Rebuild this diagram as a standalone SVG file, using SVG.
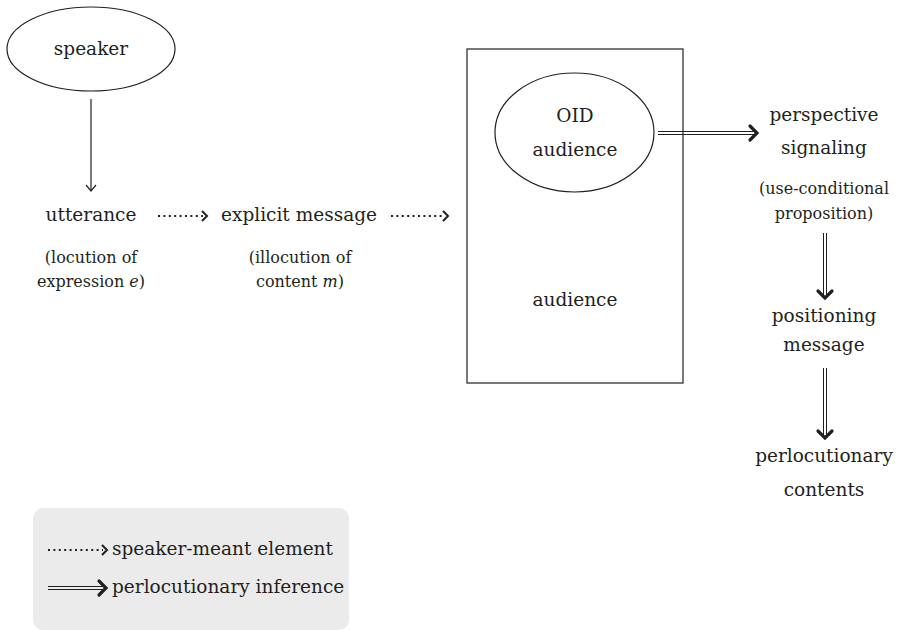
<svg xmlns="http://www.w3.org/2000/svg" width="898" height="630" viewBox="0 0 898 630">
<defs>
<style>
.t{font-family:"DejaVu Serif","Liberation Serif",serif;fill:#231f20;text-anchor:middle}
.m{font-size:18.5px}
.s{font-size:16px}
.l{text-anchor:start}
.shape{fill:none;stroke:#231f20;stroke-width:1.2}
.thin{fill:none;stroke:#231f20;stroke-width:1.2}
.dot{fill:none;stroke:#231f20;stroke-width:2;stroke-dasharray:2 3.4}
.dhead{fill:none;stroke:#231f20;stroke-width:2}
.dbl{fill:none;stroke:#231f20;stroke-width:1}
.bhead{fill:none;stroke:#231f20;stroke-width:3.2;stroke-linecap:round;stroke-linejoin:miter}
</style>
</defs>
<rect width="898" height="630" fill="#fff"/>
<g id="speaker">
<ellipse class="shape" cx="91" cy="49" rx="84" ry="42"/>
<text class="t m" x="91" y="55">speaker</text>
</g>
<g id="utterance">
<text class="t m" x="91" y="221">utterance</text>
<text class="t s" x="91" y="263">(locution of</text>
<text class="t s" x="91" y="287">expression <tspan font-style="italic">e</tspan>)</text>
</g>
<g id="explicit-message">
<text class="t m" x="299" y="221">explicit message</text>
<text class="t s" x="300" y="263">(illocution of</text>
<text class="t s" x="300" y="287">content <tspan font-style="italic">m</tspan>)</text>
</g>
<g id="audience">
<rect class="shape" x="467" y="49" width="216" height="334"/>
<text class="t m" x="575" y="306">audience</text>
</g>
<g id="oid-audience">
<ellipse class="shape" cx="574.5" cy="132.5" rx="79.5" ry="59.5"/>
<text class="t m" x="575" y="122">OID</text>
<text class="t m" x="575" y="156">audience</text>
</g>
<g id="perspective-signaling">
<text class="t m" x="824" y="121">perspective</text>
<text class="t m" x="824" y="154">signaling</text>
<text class="t s" x="824" y="194">(use-conditional</text>
<text class="t s" x="824" y="219">proposition)</text>
</g>
<g id="positioning-message">
<text class="t m" x="824" y="322">positioning</text>
<text class="t m" x="824" y="351">message</text>
</g>
<g id="perlocutionary-contents">
<text class="t m" x="824" y="462">perlocutionary</text>
<text class="t m" x="824" y="496">contents</text>
</g>
<g id="connectors">
<line class="thin" x1="91" y1="99" x2="91" y2="190"/>
<polyline class="thin" points="86,185 91,191 96,185"/>
<line class="dot" x1="158" y1="216" x2="203" y2="216"/>
<polyline class="dhead" points="202,211 207,216 202,221"/>
<line class="dot" x1="391" y1="216" x2="444" y2="216"/>
<polyline class="dhead" points="443,211 448,216 443,221"/>
<line class="dbl" x1="658" y1="131.5" x2="756" y2="131.5"/>
<line class="dbl" x1="658" y1="134.5" x2="756" y2="134.5"/>
<polyline class="bhead" points="750,126 757,133 750,140"/>
<line class="dbl" x1="823.5" y1="233" x2="823.5" y2="297"/>
<line class="dbl" x1="826.5" y1="233" x2="826.5" y2="297"/>
<polyline class="bhead" points="818,291 825,298 832,291"/>
<line class="dbl" x1="823.5" y1="368" x2="823.5" y2="437"/>
<line class="dbl" x1="826.5" y1="368" x2="826.5" y2="437"/>
<polyline class="bhead" points="818,431 825,438 832,431"/>
</g>
<g id="legend">
<rect x="33" y="508" width="316" height="122" rx="10" fill="#ebebeb"/>
<line class="dot" x1="48" y1="550" x2="103" y2="550"/>
<polyline class="dhead" points="102,545 107,550 102,555"/>
<text class="t m l" x="112" y="555">speaker-meant element</text>
<line class="dbl" x1="48" y1="586.5" x2="105" y2="586.5"/>
<line class="dbl" x1="48" y1="589.5" x2="105" y2="589.5"/>
<polyline class="bhead" points="99,581 106,588 99,595"/>
<text class="t m l" x="112" y="593">perlocutionary inference</text>
</g>
</svg>
